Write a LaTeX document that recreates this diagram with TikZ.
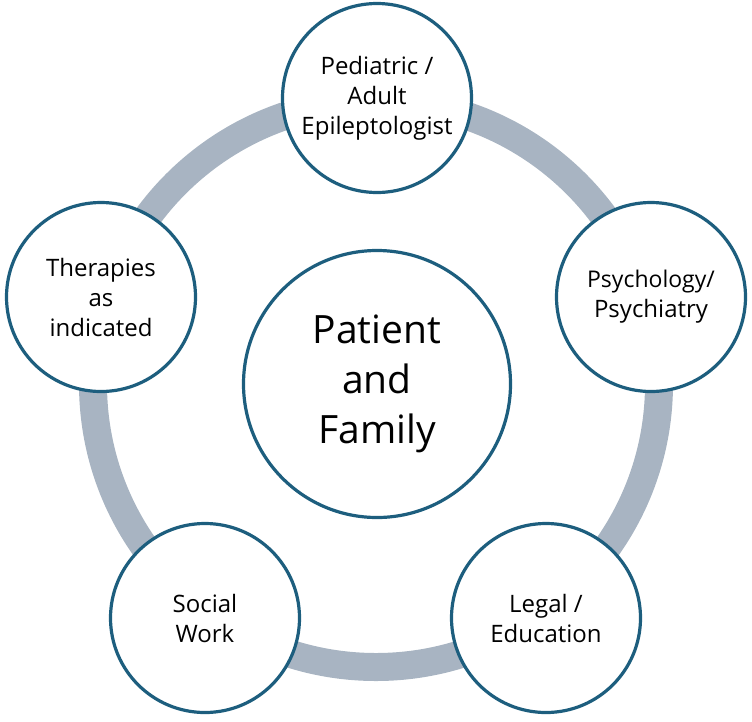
\documentclass[tikz,border=0pt]{standalone}
\usepackage{fontspec}
\setmainfont{Open Sans}
\definecolor{ringgray}{HTML}{A8B4C2}
\definecolor{rimblue}{HTML}{1D5E7E}
\begin{document}
\begin{tikzpicture}[x=1pt,y=-1pt,
  member/.style={circle,draw=rimblue,line width=3.2pt,fill=white,
    minimum size=189pt,inner sep=0pt,align=center,
    font=\fontsize{24}{30}\selectfont},
  hub/.style={circle,draw=rimblue,line width=3.2pt,fill=white,
    minimum size=267pt,inner sep=0pt,align=center,
    font=\fontsize{39}{50}\selectfont},
  band/.style={draw=ringgray,line width=28pt}]
\useasboundingbox (0,0) rectangle (752,721);
\coordinate (ringc) at (376,384);
\draw[band] (ringc) circle[radius=283];
\node[hub] (pf) at (377,384) {Patient\\and\\Family};
\node[member] (epi) at (377,98) {Pediatric /\\Adult\\Epileptologist};
\node[member] (psy) at (651,297) {\fontsize{23}{28}\selectfont Psychology/\\Psychiatry};
\node[member] (leg) at (546,618) {Legal /\\Education};
\node[member] (soc) at (205,618) {Social\\Work};
\node[member] (the) at (101,297) {Therapies\\as\\indicated};
\end{tikzpicture}
\end{document}
